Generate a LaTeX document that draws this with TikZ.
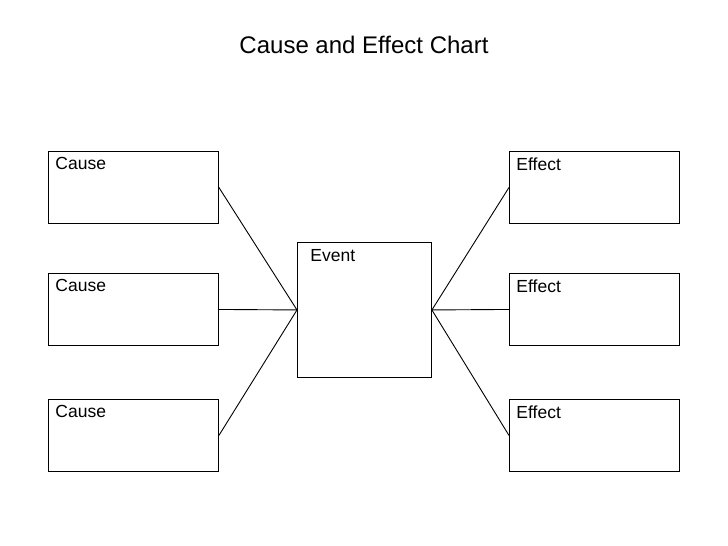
\documentclass[tikz,border=0pt]{standalone}
\usepackage{fontspec}
\setmainfont{Liberation Sans}
\begin{document}
\begin{tikzpicture}[x=1pt,y=-1pt, line width=0.9pt]
    \useasboundingbox (0,0) rectangle (728,546);
    \tikzset{chartbox/.style={rectangle, draw, anchor=north west, minimum width=170pt, minimum height=72pt, inner sep=0pt},
             boxlabel/.style={below right, xshift=5pt, yshift=-4pt, inner sep=2pt, font=\fontsize{17.5}{19}\selectfont}}

    \draw (364,45) node (title) {\fontsize{24}{26}\selectfont Cause and Effect Chart};

    % causes
    \draw (48,151) node (c1) [chartbox] {};
    \draw (c1.north west) node [boxlabel] {Cause};
    \draw (48,273) node (c2) [chartbox] {};
    \draw (c2.north west) node [boxlabel] {Cause};
    \draw (48,399) node (c3) [chartbox] {};
    \draw (c3.north west) node [boxlabel] {Cause};

    % event
    \draw (297,242) node (ev) [chartbox, minimum width=134pt, minimum height=135pt] {};
    \draw (ev.north west) node [boxlabel, xshift=6pt, yshift=-1pt] {Event};

    % effects
    \draw (509,151) node (e1) [chartbox] {};
    \draw (e1.north west) node [boxlabel] {Effect};
    \draw (509,273) node (e2) [chartbox] {};
    \draw (e2.north west) node [boxlabel] {Effect};
    \draw (509,399) node (e3) [chartbox] {};
    \draw (e3.north west) node [boxlabel] {Effect};

    \foreach \n in {c1,c2,c3} \draw (\n.east) -- (ev.west);
    \foreach \n in {e1,e2,e3} \draw (ev.east) -- (\n.west);
\end{tikzpicture}
\end{document}
